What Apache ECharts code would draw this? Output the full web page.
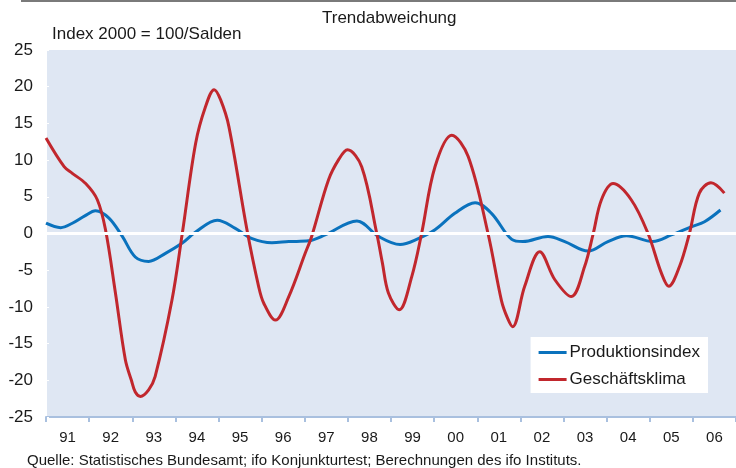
<!DOCTYPE html>
<html>
<head>
<meta charset="utf-8">
<script src="https://cdn.jsdelivr.net/npm/echarts@6/dist/echarts.min.js"></script>
<style>
  html, body { margin: 0; padding: 0; background: #ffffff; }
  #chart { width: 736px; height: 468px; }
</style>
</head>
<body>
<div id="chart"></div>
<script>
// Jahre (Kategorien der x-Achse)
var years = ['91','92','93','94','95','96','97','98','99','00','01','02','03','04','05','06'];

// Produktionsindex: Zeitpunkt (Jahr) und Trendabweichung
var prodZeit = [1991.00, 1991.34, 1991.61, 1991.90, 1992.15, 1992.46, 1992.77, 1993.07, 1993.38, 1993.77,
                1994.16, 1994.47, 1994.97, 1995.39, 1995.78, 1996.24, 1996.63, 1997.09, 1997.47, 1998.21,
                1998.71, 1999.21, 1999.63, 2000.02, 2000.48, 2000.95, 2001.33, 2001.80, 2002.06, 2002.64,
                2003.03, 2003.57, 2004.03, 2004.46, 2005.07, 2005.50, 2005.96, 2006.27, 2006.64];
var prodWert = [1.4, 0.8, 1.4, 2.4, 3.1, 2.1, -0.4, -3.2, -3.8, -2.7,
                -1.3, 0.2, 1.8, 0.7, -0.7, -1.25, -1.1, -1.0, -0.2, 1.7,
                -0.4, -1.5, -0.7, 0.5, 2.75, 4.2, 2.75, -0.8, -1.1, -0.4,
                -1.1, -2.4, -1.1, -0.3, -1.1, -0.2, 0.9, 1.6, 3.2];

// Geschäftsklima: Zeitpunkt (Jahr) und Trendabweichung
var klimaZeit = [1991.00, 1991.42, 1991.61, 1991.92, 1992.19, 1992.38, 1992.61, 1992.84, 1992.98, 1993.07,
                 1993.19, 1993.38, 1993.53, 1993.92, 1994.16, 1994.47, 1994.70, 1994.90, 1995.05, 1995.24,
                 1995.66, 1995.93, 1996.05, 1996.32, 1996.63, 1997.01, 1997.16, 1997.55, 1997.80, 1997.99,
                 1998.32, 1998.67, 1998.80, 1998.94, 1999.19, 1999.48, 1999.71, 2000.02, 2000.41, 2000.79,
                 2001.25, 2001.56, 2001.70, 2001.82, 2002.10, 2002.45, 2002.80, 2003.18, 2003.49, 2003.69,
                 2003.88, 2004.15, 2004.57, 2004.96, 2005.27, 2005.44, 2005.69, 2005.92, 2006.15, 2006.42,
                 2006.73];
var klimaWert = [13.0, 9.1, 8.2, 6.8, 4.6, 0.5, -8.1, -17.2, -20.0, -21.6,
                 -22.2, -21.3, -19.5, -9.1, 0.0, 12.3, 17.3, 19.6, 18.2, 14.6,
                 0.5, -7.2, -9.5, -11.8, -8.6, -2.7, -0.4, 7.3, 10.2, 11.4,
                 9.1, 0.0, -4.0, -8.1, -10.4, -5.9, 0.0, 9.1, 13.4, 10.5,
                 0.0, -9.1, -11.5, -12.7, -7.2, -2.5, -6.3, -8.6, -4.5, 0.0,
                 4.6, 6.8, 4.6, 0.0, -5.4, -7.2, -4.5, 0.0, 5.5, 6.9,
                 5.5];

// y-Achse
var yMin = -25, yMax = 25, yStep = 5;

function toPairs(xs, ys) {
    var out = [];
    for (var i = 0; i < xs.length; i++) {
        out.push([xs[i], ys[i]]);
    }
    return out;
}

var myChart = echarts.init(document.getElementById('chart'));
var option = {
    backgroundColor: '#ffffff',
    animation: false,
    textStyle: { fontFamily: 'Liberation Sans, Arial, sans-serif' },
    title: [
        {
            text: 'Trendabweichung',
            left: 317, top: 5,
            textStyle: { fontSize: 17, fontWeight: 'normal', color: '#1a1a1a' }
        },
        {
            text: 'Index 2000 = 100/Salden',
            left: 47, top: 21,
            textStyle: { fontSize: 17, fontWeight: 'normal', color: '#1a1a1a' }
        },
        {
            text: 'Quelle: Statistisches Bundesamt; ifo Konjunkturtest; Berechnungen des ifo Instituts.',
            left: 22, top: 448,
            textStyle: { fontSize: 15, fontWeight: 'normal', color: '#1a1a1a' }
        }
    ],
    legend: {
        orient: 'vertical',
        right: 28, top: 337,
        backgroundColor: '#ffffff',
        padding: [7, 8, 5, 8],
        itemGap: 10,
        itemWidth: 28,
        itemHeight: 3,
        icon: 'rect',
        textStyle: { fontSize: 17, color: '#1a1a1a', padding: [0, 0, 0, -2] },
        data: ['Produktionsindex', 'Geschäftsklima']
    },
    grid: {
        left: 46, right: -2, top: 50, bottom: 51,
        show: true,
        backgroundColor: '#dfe7f3',
        borderWidth: 0
    },
    xAxis: [
        {
            type: 'category',
            data: years,
            boundaryGap: true,
            axisLine: { onZero: false, lineStyle: { color: '#a9c0df', width: 2 } },
            axisTick: { show: true, length: 5, lineStyle: { color: '#a9c0df', width: 2 } },
            axisLabel: { fontSize: 15, color: '#1a1a1a', margin: 13 },
            splitLine: { show: false }
        },
        {
            type: 'value',
            min: 1991, max: 2007,
            show: false
        }
    ],
    yAxis: {
        type: 'value',
        min: yMin, max: yMax, interval: yStep,
        axisLine: { show: true, lineStyle: { color: '#ffffff', width: 2 } },
        axisTick: { show: true, length: 3, inside: true, lineStyle: { color: '#ffffff' } },
        axisLabel: { fontSize: 17, color: '#1a1a1a', margin: 13 },
        splitLine: { show: false }
    },
    series: [
        {
            name: 'Produktionsindex',
            type: 'line',
            xAxisIndex: 1,
            smooth: 0.35,
            showSymbol: false,
            data: toPairs(prodZeit, prodWert),
            lineStyle: { color: '#0a72bd', width: 3 },
            itemStyle: { color: '#0a72bd' },
            z: 3
        },
        {
            name: 'Geschäftsklima',
            type: 'line',
            xAxisIndex: 1,
            smooth: 0.35,
            showSymbol: false,
            data: toPairs(klimaZeit, klimaWert),
            lineStyle: { color: '#c1272d', width: 3 },
            itemStyle: { color: '#c1272d' },
            z: 3
        },
        {
            // Nulllinie über den Kurven
            name: 'null',
            type: 'line',
            xAxisIndex: 1,
            data: [],
            silent: true,
            z: 5,
            markLine: {
                silent: true,
                symbol: 'none',
                label: { show: false },
                lineStyle: { color: '#ffffff', width: 3, type: 'solid' },
                data: [{ yAxis: 0 }]
            }
        }
    ],
    graphic: [
        {
            type: 'rect',
            shape: { x: 21, y: 0, width: 715, height: 2 },
            style: { fill: '#7a7a7a' }
        }
    ]
};
myChart.setOption(option);
</script>
</body>
</html>
